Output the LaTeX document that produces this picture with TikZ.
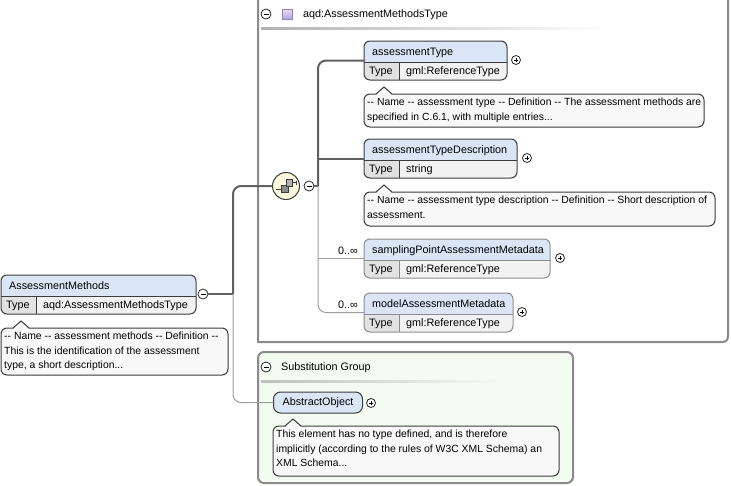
\documentclass[tikz,border=0pt]{standalone}
\usepackage{fontspec}
\setmainfont{Liberation Sans}
\definecolor{hdrblue}{HTML}{DAE5F6}
\definecolor{typecell}{HTML}{E2E2E2}
\definecolor{valcell}{HTML}{F2F2F2}
\definecolor{annfill}{HTML}{F8F8F8}
\definecolor{seqfill}{HTML}{FBF8DE}
\definecolor{subfill}{HTML}{F2FCF0}
\definecolor{boxgray}{HTML}{8A8A8A}
\definecolor{sqfill}{HTML}{B4A4DA}
\definecolor{sqdraw}{HTML}{9080C0}
\definecolor{dark}{HTML}{3C3C3C}
\definecolor{optgray}{HTML}{8C8C8C}
\tikzset{
  txt/.style={font=\fontsize{10.8}{14}\selectfont, inner sep=0pt, text height=8pt, text depth=2pt},
  anntxt/.style={font=\fontsize{10.4}{14.5}\selectfont, inner sep=0pt, align=left},
  conthick/.style={draw=black!62, line width=2pt},
  conthin/.style={draw=black!38, line width=1pt},
  signc/.style={circle, draw=black!85, fill=white, line width=0.8pt, minimum size=10pt, inner sep=0pt},
}
\newcommand\minusc[3]{%
  \node[signc] (#1) at (#2,#3) {};
  \draw[line width=0.8pt] ([xshift=-2.5pt]#1.center) -- ([xshift=2.5pt]#1.center);
}
\newcommand\plusc[3]{%
  \node[signc, minimum size=9pt] (#1) at (#2,#3) {};
  \draw[line width=0.8pt] ([xshift=-2.3pt]#1.center) -- ([xshift=2.3pt]#1.center)
    ([yshift=-2.3pt]#1.center) -- ([yshift=2.3pt]#1.center);
}
\newcommand\xelem[9]{%
  \begin{scope}
    \clip[rounded corners=6pt] (#2,#3) rectangle (#4,#5);
    \fill[hdrblue] (#2,#3) rectangle (#4,{#3+21});
    \fill[valcell] (#2,{#3+21}) rectangle (#4,#5);
    \fill[typecell] (#2,{#3+21}) rectangle ({#2+#9},#5);
  \end{scope}
  \draw[#8, line width=1pt] (#2,{#3+21}) -- (#4,{#3+21}) ({#2+#9},{#3+21}) -- ({#2+#9},#5);
  \draw[#8, line width=1pt, rounded corners=6pt] (#2,#3) rectangle (#4,#5);
  \node[txt, anchor=west] (#1-t) at ({#2+8},{#3+11.5}) {#6};
  \node[txt, anchor=west] (#1-k) at ({#2+5},{(#3+21+#5)/2+0.5}) {Type};
  \node[txt, anchor=west] (#1-v) at ({#2+#9+7},{(#3+21+#5)/2+0.5}) {#7};
  \coordinate (#1-w) at (#2,{(#3+#5)/2});
}
\newcommand\xann[6]{%
  \draw[dark, fill=annfill, line width=1pt, rounded corners=6pt] (#2,#3) rectangle (#4,#5);
  \fill[annfill] ({#2+12},{#3+1.2}) -- ({#2+20},{#3-7}) -- ({#2+28},{#3+1.2}) -- cycle;
  \draw[dark, line width=1pt] ({#2+12},#3) -- ({#2+20},{#3-7}) -- ({#2+28},#3);
  \node[anntxt, anchor=north west] (#1) at ({#2+3},{#3+4}) {#6};
}
\begin{document}
\begin{tikzpicture}[x=1pt,y=-1pt]
\useasboundingbox (0,0) rectangle (731,485);
% type box
\draw[boxgray, line width=2pt] (258,-3) -- (258,342) -- (722,342) .. controls (726,342) and (728,340) .. (728,336) -- (728,-3);
\minusc{tmin}{266}{14}
\shade[top color=sqfill!35, bottom color=sqfill] (282,9) rectangle (292,19);
\draw[sqdraw] (282,9) rectangle (292,19);
\node[txt, anchor=west] (tname) at (303,14.5) {aqd:AssessmentMethodsType};
\shade[left color=black!30, right color=white] (261,27.5) rectangle (610,29.5);
% substitution group box
\draw[boxgray, fill=subfill, line width=2pt, rounded corners=6pt] (258,352) rectangle (573,483);
\minusc{submin}{266}{367}
\node[txt, anchor=west] (subt) at (281,367.5) {Substitution Group};
\shade[left color=black!25, right color=subfill] (261,380) rectangle (500,382);
% sequence
\node[circle, draw=dark, fill=seqfill, line width=1pt, minimum size=27pt, inner sep=0pt] (seq) at (286,186) {};
\draw[dark, line width=0.8pt] (276,189) -- (282,189);
\draw[dark, fill=black!45, line width=0.6pt] (281.5,185) rectangle (288,192);
\draw[dark, fill=black!30, line width=0.6pt] (286,179.5) rectangle (292.5,186);
\draw[dark, line width=0.8pt] (292.5,182.5) -- (296,182.5) (296,180.5) -- (296,184.5);
\minusc{seqmin}{309}{186}
\minusc{ammin}{203}{294}
\coordinate (jR) at (318,186);
\coordinate (jL) at (233,294);
% elements
\xelem{at}{364}{41}{507}{80}{assessmentType}{gml:ReferenceType}{dark}{35}
\xelem{atd}{364}{139}{517}{178}{assessmentTypeDescription}{string}{dark}{35}
\xelem{spam}{364}{239}{550}{278}{samplingPointAssessmentMetadata}{gml:ReferenceType}{optgray}{35}
\xelem{mam}{364}{293}{513}{332}{modelAssessmentMetadata}{gml:ReferenceType}{optgray}{35}
\xelem{am}{1}{275}{196}{314}{AssessmentMethods}{aqd:AssessmentMethodsType}{dark}{35}
\node[txt, draw=dark, fill=hdrblue, line width=1pt, rounded corners=7pt, minimum width=89pt, minimum height=21pt, anchor=west] (ao) at (273,402.5) {AbstractObject};
\plusc{atp}{516}{60}
\plusc{atdp}{527}{158}
\plusc{spamp}{560}{258}
\plusc{mamp}{522}{312}
\plusc{aop}{371}{403}
\node[txt, anchor=east] (spamocc) at (358,251) {0..∞};
\node[txt, anchor=east] (mamocc) at (358,305) {0..∞};
% connectors
\draw[conthick] (ammin.east) -- (jL);
\draw[conthick, rounded corners=8pt] (jL) |- (seq.west);
\draw[conthin, rounded corners=8pt] (jL) |- (ao.west);
\draw[conthick] (seqmin.east) -- (jR);
\draw[conthick, rounded corners=8pt] (jR) |- (at-w);
\draw[conthick] (jR |- atd-w) -- (atd-w);
\draw[conthin, rounded corners=8pt] (jR) |- (mam-w);
\draw[conthin] (jR |- spam-w) -- (spam-w);
% annotations
\xann{atann}{364}{94}{704}{127}{-{}- Name -{}- assessment type -{}- Definition -{}- The assessment methods are\\specified in C.6.1, with multiple entries...}
\xann{atdann}{364}{192}{715}{226}{-{}- Name -{}- assessment type description -{}- Definition -{}- Short description of\\assessment.}
\xann{amann}{1}{328}{228}{375}{-{}- Name -{}- assessment methods -{}- Definition -{}-\\This is the identification of the assessment\\type, a short description...}
\xann{aoann}{273}{426}{559}{476}{This element has no type defined, and is therefore\\implicitly (according to the rules of W3C XML Schema) an\\XML Schema...}
\end{tikzpicture}
\end{document}
